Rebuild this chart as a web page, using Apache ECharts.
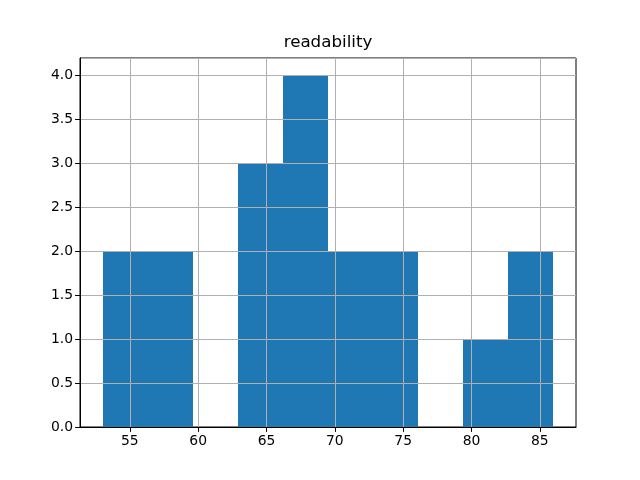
<!DOCTYPE html>
<html>
<head>
<meta charset="utf-8">
<script src="https://cdn.jsdelivr.net/npm/echarts@6/dist/echarts.min.js"></script>
<style>html,body{margin:0;padding:0;background:#fff}#c{width:640px;height:480px}</style>
</head>
<body>
<div id="c"></div>
<script>
const title = "readability";
const binStarts = [53.0, 56.3, 59.6, 62.9, 66.2, 69.5, 72.8, 76.1, 79.4, 82.7];
const binEnds   = [56.3, 59.6, 62.9, 66.2, 69.5, 72.8, 76.1, 79.4, 82.7, 86.0];
const counts    = [2, 2, 0, 3, 4, 2, 2, 0, 1, 2];
const xTicks = [55, 60, 65, 70, 75, 80, 85];
const xMin = 51.35, xMax = 87.65;
const yMax = 4.2;

const data = counts.map((c, i) => [binStarts[i], binEnds[i], c]);
const font = 'DejaVu Sans';
const chart = echarts.init(document.getElementById('c'), null, {renderer: 'canvas'});
chart.setOption({
  animation: false,
  graphic: [{
    type: 'text', x: 328, y: 43, z: 10,
    style: {text: title, fontFamily: font, fontSize: 16.7, fill: '#000', align: 'center', verticalAlign: 'middle'}
  }],
  grid: {left: 80, right: 64, top: 58, bottom: 53, show: true, borderColor: '#000', borderWidth: 1, containLabel: false},
  xAxis: {
    type: 'value', min: xMin, max: xMax, z: 5,
    axisLine: {show: true, onZero: false, lineStyle: {color: '#000', width: 1}},
    axisTick: {show: true, length: 4.9, lineStyle: {color: '#000', width: 1}, customValues: xTicks},
    axisLabel: {color: '#000', fontFamily: font, fontSize: 13.9, margin: 7, customValues: xTicks},
    splitLine: {show: true, lineStyle: {color: '#b0b0b0', width: 1}}
  },
  yAxis: {
    type: 'value', min: 0, max: yMax, interval: 0.5, z: 5,
    axisLine: {show: true, lineStyle: {color: '#000', width: 1}},
    axisTick: {show: true, length: 4.9, lineStyle: {color: '#000', width: 1}},
    axisLabel: {color: '#000', fontFamily: font, fontSize: 13.9, margin: 7,
      formatter: v => v.toFixed(1), showMaxLabel: false},
    splitLine: {show: true, lineStyle: {color: '#b0b0b0', width: 1}}
  },
  series: [{
    type: 'custom',
    z: 2,
    renderItem: function (params, api) {
      const p0 = api.coord([api.value(0), 0]);
      const p1 = api.coord([api.value(1), api.value(2)]);
      const x0 = Math.round(p0[0]), x1 = Math.round(p1[0]);
      const y0 = Math.round(p0[1]), y1 = Math.round(p1[1]);
      return {
        type: 'rect',
        shape: {x: x0, y: y1, width: x1 - x0, height: y0 - y1},
        style: {fill: '#1f77b4'}
      };
    },
    encode: {x: [0, 1], y: 2},
    data: data
  }]
});
</script>
</body>
</html>
